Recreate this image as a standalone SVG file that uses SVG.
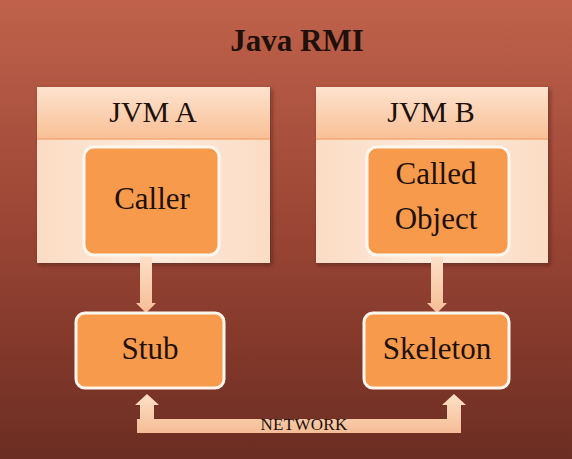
<svg xmlns="http://www.w3.org/2000/svg" width="572" height="459" viewBox="0 0 572 459">
<defs>
<linearGradient id="bg" x1="0" y1="0" x2="0" y2="1">
<stop offset="0" stop-color="#c0624b"/>
<stop offset="0.5" stop-color="#9a4535"/>
<stop offset="1" stop-color="#6c2d22"/>
</linearGradient>
<linearGradient id="hdr" x1="0" y1="0" x2="0" y2="1">
<stop offset="0" stop-color="#fde3cf"/>
<stop offset="1" stop-color="#f9bf95"/>
</linearGradient>
<linearGradient id="body" x1="0" y1="0" x2="1" y2="0">
<stop offset="0" stop-color="#fbdcc4"/>
<stop offset="0.5" stop-color="#fdeadc"/>
<stop offset="1" stop-color="#fbdcc4"/>
</linearGradient>
<linearGradient id="conn" x1="0" y1="0" x2="0" y2="1">
<stop offset="0" stop-color="#fde0c8"/>
<stop offset="1" stop-color="#f6bd96"/>
</linearGradient>
<filter id="sh" x="-10%" y="-10%" width="130%" height="130%">
<feDropShadow dx="2" dy="2" stdDeviation="2" flood-color="#3a140c" flood-opacity="0.5"/>
</filter>
</defs>
<style>
.t{font-family:"Liberation Serif","DejaVu Serif",serif;fill:#1e100a;text-anchor:middle}
.big{font-size:31px}
.hd{font-size:30px}
.node{fill:#f79a4c;stroke:#fff6ee;stroke-width:3}
.jvm{filter:url(#sh)}
.c{fill:url(#conn);stroke:none}
</style>
<rect x="0" y="0" width="572" height="459" fill="url(#bg)"/>
<text class="t" x="297" y="51" font-size="31" font-weight="bold" fill="#24100a">Java RMI</text>

<g id="jvmA">
<g class="jvm">
<rect x="37" y="87" width="233" height="176" fill="url(#body)"/>
<rect x="37" y="87" width="233" height="52" fill="url(#hdr)"/>
<line x1="37" y1="139" x2="270" y2="139" stroke="#f3a873" stroke-width="1.5"/>
</g>
<text class="t hd" x="153" y="122">JVM A</text>
</g>

<g id="jvmB">
<g class="jvm">
<rect x="316" y="87" width="232" height="176" fill="url(#body)"/>
<rect x="316" y="87" width="232" height="52" fill="url(#hdr)"/>
<line x1="316" y1="139" x2="548" y2="139" stroke="#f3a873" stroke-width="1.5"/>
</g>
<text class="t hd" x="431" y="122">JVM B</text>
</g>

<g id="connectors">
<path class="c" d="M140,256 H152 V303 H156 L146,313 L136,303 H140 Z"/>
<path class="c" d="M431,256 H443 V303 H447 L437,313 L427,303 H431 Z"/>
<path class="c" d="M137,433 V419 H140 V405 H135 L147,394 L159,405 H154 V419 H447 V405 H442 L454,394 L466,405 H461 V433 Z"/>
<text class="t" x="304" y="430" font-size="17" letter-spacing="0.3">NETWORK</text>
</g>

<g id="caller">
<rect class="node" x="84" y="147" width="135" height="108" rx="10"/>
<text class="t big" x="152" y="209">Caller</text>
</g>

<g id="called">
<rect class="node" x="367" y="147" width="142" height="108" rx="10"/>
<text class="t big" x="436" y="184">Called</text>
<text class="t big" x="436" y="229">Object</text>
</g>

<g id="stub">
<rect class="node" x="76" y="313" width="148" height="75" rx="9"/>
<text class="t big" x="150" y="359">Stub</text>
</g>

<g id="skeleton">
<rect class="node" x="364" y="313" width="145" height="75" rx="9"/>
<text class="t big" x="437" y="359">Skeleton</text>
</g>
</svg>
